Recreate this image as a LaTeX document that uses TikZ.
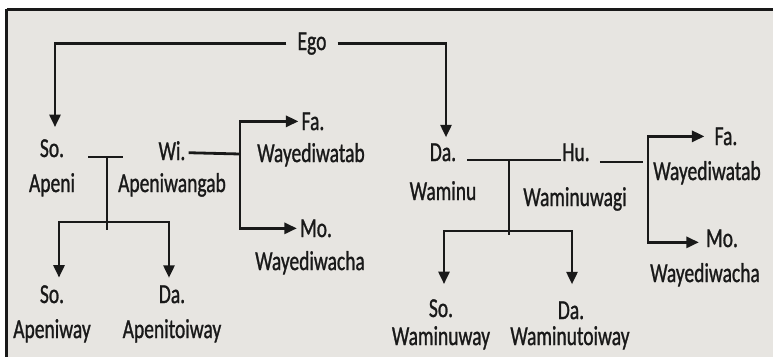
\documentclass[tikz,border=0pt]{standalone}
\usepackage{fontspec}
\setmainfont{Carlito}
\newfontfamily\inkfont[FakeBold=1.3]{Carlito}
\usepackage{graphicx}
\usetikzlibrary{arrows.meta}
\definecolor{paper}{RGB}{231,229,225}
\definecolor{ink}{RGB}{25,25,25}
\newcommand{\tl}[1]{\scalebox{1}[1.4]{#1}}
\begin{document}
\begin{tikzpicture}[x=1bp,y=-1bp,
  lbl/.style={anchor=base, inner sep=0pt, text=ink, font=\inkfont\fontsize{19.5bp}{23bp}\selectfont},
  ln/.style={draw=ink, line width=2.8bp},
  arr/.style={ln, -{Triangle[length=12.5bp,width=11bp]}}]
\useasboundingbox (0,0) rectangle (773,357);
\fill[white] (0,0) rectangle (773,357);
\fill[paper] (6,9) rectangle (773,357);
\draw[ink, line width=3bp] (6.5,9) -- (773,9);
\draw[ink, line width=3bp] (6.5,9) -- (6.5,357);

% labels
\node[lbl, inner xsep=11bp] (ego) at (312,50) {\tl{Ego}};
\node[lbl] (so1) at (52,157) {\tl{So.}};
\node[lbl] (so1n) at (52,192) {\tl{Apeni}};
\node[lbl] (wi) at (172,160) {\tl{Wi.}};
\node[lbl] (win) at (172,192) {\tl{Apeniwangab}};
\node[lbl] (fa1) at (313,130) {\tl{Fa.}};
\node[lbl] (fa1n) at (311,162) {\tl{Wayediwatab}};
\node[lbl] (mo1) at (316,237) {\tl{Mo.}};
\node[lbl] (mo1n) at (310,270) {\tl{Wayediwacha}};
\node[lbl] (so2) at (52,303) {\tl{So.}};
\node[lbl] (so2n) at (52,338) {\tl{Apeniway}};
\node[lbl] (da2) at (172,303) {\tl{Da.}};
\node[lbl] (da2n) at (172,338) {\tl{Apenitoiway}};
\node[lbl] (da1) at (443,161) {\tl{Da.}};
\node[lbl] (da1n) at (443,200) {\tl{Waminu}};
\node[lbl] (hu) at (576,161) {\tl{Hu.}};
\node[lbl] (hun) at (575,206) {\tl{Waminuwagi}};
\node[lbl] (fa3) at (726,145) {\tl{Fa.}};
\node[lbl] (fa3n) at (707,180) {\tl{Wayediwatab}};
\node[lbl] (mo3) at (722,247) {\tl{Mo.}};
\node[lbl] (mo3n) at (705,282) {\tl{Wayediwacha}};
\node[lbl] (so4) at (441,317) {\tl{So.}};
\node[lbl] (so4n) at (441,345) {\tl{Waminuway}};
\node[lbl] (da4) at (571,319) {\tl{Da.}};
\node[lbl] (da4n) at (570,345) {\tl{Waminutoiway}};

% junctions
\coordinate (t1) at (107,157);
\coordinate (k1) at (107,222);
\coordinate (v1) at (240,154);
\coordinate (t2) at (509,160);
\coordinate (k2) at (509,231);
\coordinate (h3) at (643,162);
\coordinate (v3) at (648,190);

% Ego to children
\draw[arr] (ego.west) -| ([xshift=3bp,yshift=12bp]so1.north);
\draw[arr] (ego.east) -| ([xshift=3bp,yshift=6bp]da1.north);

% left family
\draw[ln] ([xshift=-19bp]t1) -- ([xshift=16bp]t1);
\draw[ln] (t1) -- ([yshift=-8bp]k1);
\draw[arr] (k1) -| ([xshift=7bp,yshift=7.5bp]so2.north);
\draw[arr] (k1) -| ([xshift=-3bp,yshift=7.5bp]da2.north);
\draw[ln] ([xshift=3bp,yshift=-2bp]wi.east) -- (v1);
\draw[arr] (v1) |- ([xshift=-3bp]fa1.west);
\draw[arr] (v1) |- ([xshift=-3bp]mo1.west);

% right family
\draw[ln] ([xshift=11bp,yshift=1bp]da1.base east) -- ([xshift=-1bp,yshift=1bp]hu.base west);
\draw[ln] (t2) -- ([yshift=-4bp]k2);
\draw[arr] (k2) -| ([xshift=3bp,yshift=15bp]so4.north);
\draw[arr] (k2) -| ([xshift=1bp,yshift=17bp]da4.north);
\draw[ln] ([xshift=10bp,yshift=-1bp]hu.base east) -- (h3);
\draw[arr] (v3) |- ([xshift=-10bp]fa3.west);
\draw[arr] (v3) |- ([xshift=-7bp,yshift=-4bp]mo3.west);
\end{tikzpicture}
\end{document}
